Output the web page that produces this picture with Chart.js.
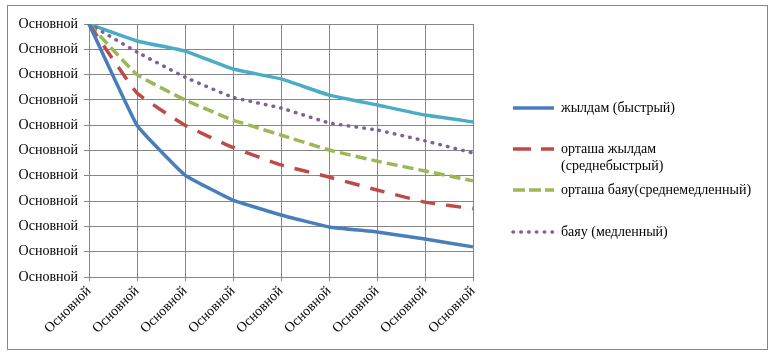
<!DOCTYPE html>
<html>
<head>
<meta charset="utf-8">
<script src="https://cdn.jsdelivr.net/npm/chart.js@4"></script>
<style>
    html, body { margin: 0; padding: 0; background: #fff; }
    #wrap { width: 777px; height: 359px; }
</style>
</head>
<body>
<div id="wrap"><canvas id="myChart"></canvas></div>
<script>
const categories = ['Основной', 'Основной', 'Основной', 'Основной', 'Основной', 'Основной', 'Основной', 'Основной', 'Основной'];
const yTickLabels = ['Основной', 'Основной', 'Основной', 'Основной', 'Основной', 'Основной', 'Основной', 'Основной', 'Основной', 'Основной', 'Основной'];
const seriesNames = ['жылдам (быстрый)', 'орташа жылдам\n(среднебыстрый)', 'орташа баяу(среднемедленный)', 'баяу (медленный)', ''];

const fastValues = [10, 6.0, 4.03, 3.04, 2.45, 1.98, 1.78, 1.5, 1.19];
const midFastValues = [10, 7.27, 6.0, 5.12, 4.43, 3.95, 3.44, 2.96, 2.7];
const midSlowValues = [10, 8.0, 7.0, 6.2, 5.61, 5.02, 4.58, 4.19, 3.8];
const slowValues = [10, 8.89, 7.9, 7.1, 6.68, 6.09, 5.81, 5.38, 4.9];
const extraValues = [10, 9.33, 8.93, 8.22, 7.83, 7.19, 6.8, 6.4, 6.13];

const serif = "'Liberation Serif', 'Times New Roman', serif";
const gridColor = '#868686';

// позиции строк легенды справа
const legendRows = [108, 149, 190, 232];

const getDataset = (label, data, color, dash, cap) => ({
    label,
    data,
    borderColor: color,
    backgroundColor: color,
    borderWidth: 3.5,
    borderDash: dash,
    borderCapStyle: cap || 'butt',
    pointRadius: 0,
    tension: 0.1,
    fill: false,
});

const sideLegend = {
    id: 'sideLegend',
    beforeDraw(chart) {
        const ctx = chart.ctx;
        ctx.save();
        ctx.strokeStyle = gridColor;
        ctx.lineWidth = 1;
        ctx.strokeRect(7.5, 5.5, 760, 344);
        ctx.restore();
    },
    afterDraw(chart) {
        const ctx = chart.ctx;
        ctx.save();
        ctx.font = `14px ${serif}`;
        ctx.textBaseline = 'middle';
        legendRows.forEach((y, i) => {
            const ds = chart.data.datasets[i];
            ctx.strokeStyle = ds.borderColor;
            ctx.lineWidth = ds.borderWidth;
            ctx.lineCap = ds.borderCapStyle;
            ctx.setLineDash(ds.legendDash);
            ctx.beginPath();
            ctx.moveTo(513, y);
            ctx.lineTo(554, y);
            ctx.stroke();
            ctx.setLineDash([]);
            ctx.fillStyle = '#000';
            ds.label.split('\n').forEach((line, k) => {
                ctx.fillText(line, 561, y + k * 17);
            });
        });
        ctx.restore();
    },
};

const datasets = [
    getDataset(seriesNames[0], fastValues, '#4a7ebb', []),
    getDataset(seriesNames[1], midFastValues, '#be4b48', [15, 11]),
    getDataset(seriesNames[2], midSlowValues, '#98b954', [11, 5]),
    getDataset(seriesNames[3], slowValues, '#7d60a0', [0.5, 7.3], 'round'),
    getDataset(seriesNames[4], extraValues, '#4bacc6', []),
];
datasets[0].legendDash = [];
datasets[1].legendDash = [18, 10];
datasets[2].legendDash = [12, 4];
datasets[3].legendDash = [0.5, 7.3];

new Chart(document.getElementById('myChart'), {
    type: 'line',
    data: { labels: categories, datasets },
    plugins: [sideLegend],
    options: {
        responsive: true,
        maintainAspectRatio: false,
        animation: false,
        layout: { padding: { left: 0, top: 24, right: 304, bottom: 0 } },
        plugins: {
            legend: { display: false },
            tooltip: { enabled: false },
        },
        scales: {
            x: {
                offset: false,
                afterFit: (scale) => { scale.height = 82; },
                grid: { color: gridColor, tickLength: 4, drawTicks: true },
                border: { color: gridColor },
                ticks: {
                    color: '#000',
                    font: { family: serif, size: 14 },
                    minRotation: 45,
                    maxRotation: 45,
                    autoSkip: false,
                    padding: 2,
                },
            },
            y: {
                min: 0,
                max: 10,
                afterFit: (scale) => { scale.width = 89; },
                grid: { color: gridColor, tickLength: 5 },
                border: { color: gridColor },
                ticks: {
                    stepSize: 1,
                    color: '#000',
                    font: { family: serif, size: 14 },
                    padding: 6,
                    callback: (v, i) => yTickLabels[i],
                },
            },
        },
    },
});
</script>
</body>
</html>
